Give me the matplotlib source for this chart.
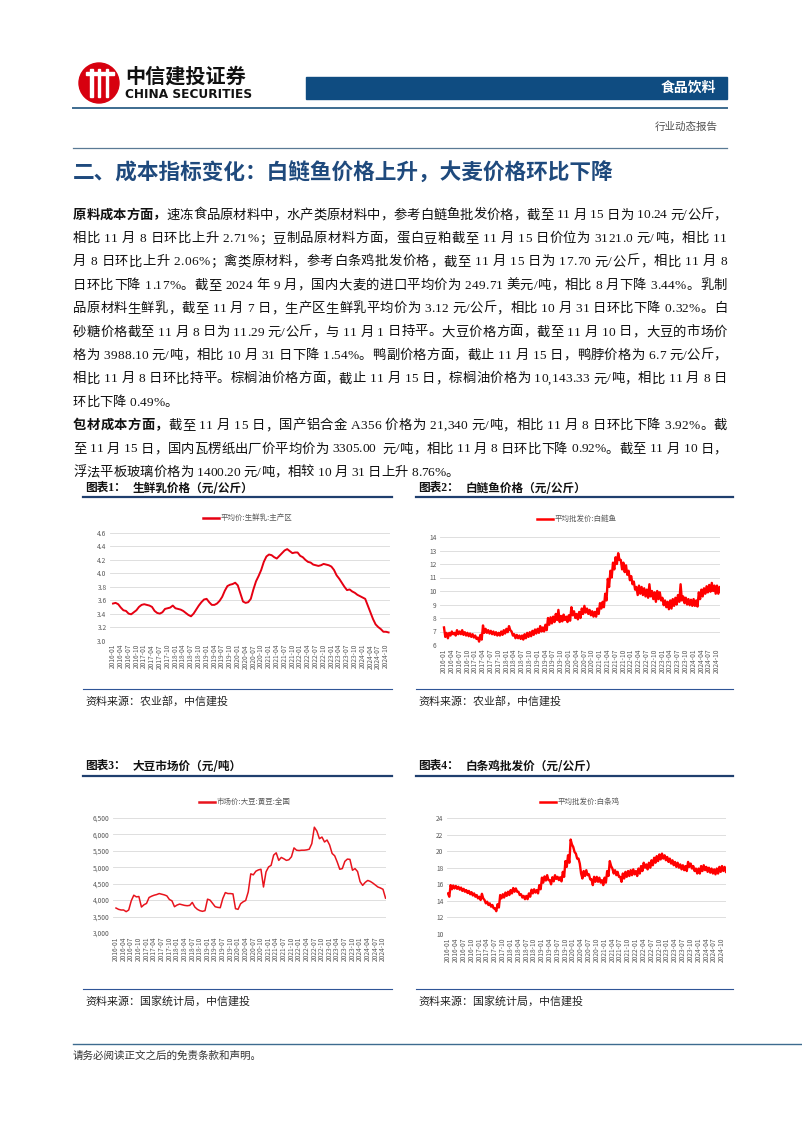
import numpy as np
import matplotlib.pyplot as plt
from matplotlib.patches import Rectangle, Ellipse
from matplotlib.lines import Line2D
from matplotlib.font_manager import FontProperties

W, H = 802, 1133
CJK = 'Noto Sans CJK SC'
SERIF = ['Liberation Serif', CJK, 'DejaVu Sans']
plt.rcParams['font.family'] = [CJK, 'DejaVu Sans']

# ---------------- data ----------------
months = [f'{y}-{m:02d}' for y in range(2016, 2025) for m in range(1, 13)][:107]
tick_labels = months[0:106:3]

# 生鲜乳 主产区平均价, 元/公斤, 月度 2016-01 .. 2024-11
milk = [3.55, 3.56, 3.54, 3.49, 3.45, 3.44, 3.40, 3.39, 3.42, 3.45, 3.50, 3.53,
        3.54, 3.53, 3.52, 3.50, 3.44, 3.41, 3.40, 3.42, 3.47, 3.48, 3.49, 3.52,
        3.48, 3.47, 3.46, 3.44, 3.41, 3.38, 3.36, 3.40, 3.46, 3.52, 3.57, 3.61,
        3.62, 3.57, 3.53, 3.53, 3.55, 3.59, 3.65, 3.74, 3.81, 3.83, 3.84, 3.86,
        3.82, 3.70, 3.58, 3.56, 3.57, 3.62, 3.76, 3.88, 3.96, 4.05, 4.17, 4.25,
        4.28, 4.27, 4.24, 4.22, 4.26, 4.30, 4.34, 4.36, 4.33, 4.30, 4.31, 4.31,
        4.26, 4.24, 4.20, 4.17, 4.16, 4.13, 4.12, 4.11, 4.12, 4.14, 4.13, 4.12,
        4.10, 4.05, 3.97, 3.92, 3.86, 3.80, 3.75, 3.76, 3.73, 3.71, 3.68, 3.66,
        3.64, 3.62, 3.52, 3.42, 3.32, 3.24, 3.20, 3.17, 3.13, 3.13, 3.12]

# 白鲢鱼 平均批发价, 元/公斤, 半月 2016-01 .. 2024-11
fish = [7.3, 6.6, 6.9, 6.5, 6.9, 6.7, 7.0, 6.8, 6.9, 6.7, 7.1, 6.8, 7.0, 6.8, 7.1, 6.75, 6.95, 6.7, 6.9, 6.65, 6.85, 6.6, 6.8, 6.55,
        6.7, 6.45, 6.55, 6.25, 6.75, 6.4, 7.45, 6.9, 7.2, 6.9, 7.1, 6.85, 7.05, 6.8, 7.0, 6.75, 6.95, 6.7, 6.9, 6.7, 7.0, 6.75, 7.1, 6.85,
        7.2, 6.95, 7.4, 7.1, 7.0, 6.7, 6.8, 6.5, 6.75, 6.5, 6.7, 6.45, 6.7, 6.4, 6.8, 6.5, 6.9, 6.6, 6.95, 6.65, 7.05, 6.75, 7.15, 6.85,
        7.2, 6.9, 7.4, 7.0, 7.3, 7.0, 7.5, 7.1, 8.0, 7.5, 8.05, 7.6, 8.1, 7.7, 8.3, 7.85, 8.6, 7.7, 8.15, 7.75, 8.25, 7.85, 8.1, 7.7,
        8.2, 7.8, 8.8, 8.2, 8.5, 8.0, 8.3, 7.9, 8.45, 8.0, 8.7, 8.3, 8.9, 8.4, 8.7, 8.3, 8.6, 8.2, 8.5, 8.1, 8.45, 8.1, 8.7, 8.3,
        9.1, 8.7, 9.2, 8.8, 9.8, 9.3, 10.9, 10.3, 11.5, 11.0, 12.1, 11.6, 12.5, 12.0, 12.8, 12.3, 12.3, 11.6, 12.1, 11.4, 11.9, 11.2, 11.5, 10.8,
        11.1, 10.5, 10.7, 10.1, 10.3, 9.7, 10.4, 9.8, 10.3, 9.7, 10.2, 9.6, 10.1, 9.5, 10.5, 9.6, 10.0, 9.4, 9.9, 9.2, 10.0, 9.4, 9.9, 9.3,
        9.5, 8.95, 9.3, 8.8, 9.2, 8.65, 9.3, 8.7, 9.4, 8.9, 9.5, 9.0, 9.7, 9.2, 10.5, 9.3, 9.6, 9.1, 9.5, 9.0, 9.4, 8.95, 9.35, 8.9,
        9.4, 8.9, 9.3, 8.85, 9.9, 9.4, 10.1, 9.6, 10.2, 9.8, 10.35, 9.9, 10.45, 9.95, 10.6, 10.0, 10.4, 9.8, 10.4, 9.8, 10.3, 9.9]

# 大豆 市场价 全国, 元/吨, 月度 2016-01 .. 2024-11
soy = [3760, 3720, 3700, 3700, 3650, 3700, 3980, 4150, 4100, 4110, 3790, 3860,
       3900, 4080, 4120, 4150, 4170, 4200, 4180, 4160, 4130, 4020, 3980, 3800,
       3850, 3880, 3860, 3840, 3830, 3840, 3930, 3790, 3720, 3680, 3660, 3680,
       4030, 4000, 3900, 3800, 3780, 3770, 4050, 4230, 4200, 4200, 4190, 3740,
       3720, 3890, 3950, 3990, 4250, 4800, 4770, 4880, 4920, 4940, 4400, 4860,
       5010, 5060, 5370, 5440, 5210, 5300, 5260, 5210, 5230, 5320, 5590, 5520,
       5510, 5520, 5520, 5530, 5550, 5720, 6220, 6100, 5870, 5920, 5770, 5830,
       5680, 5420, 5350, 5160, 4940, 4960, 5180, 5250, 5240, 4910, 4960, 4870,
       4560, 4450, 4540, 4600, 4570, 4520, 4460, 4400, 4370, 4330, 4060]

# 白条鸡 平均批发价, 元/公斤, 半月 2016-01 .. 2024-11
chicken = [14.9, 14.5, 15.9, 15.4, 15.85, 15.5, 15.8, 15.45, 15.7, 15.35, 15.6, 15.2, 15.45, 15.1, 15.3, 14.95, 15.2, 14.8, 15.05, 14.65, 14.9, 14.5, 14.7, 14.3,
           14.5, 14.1, 14.85, 14.3, 14.1, 13.7, 13.9, 13.5, 13.7, 13.3, 13.5, 13.1, 13.1, 12.75, 13.6, 13.2, 14.7, 14.3, 14.8, 14.4, 15.0, 14.6, 15.1, 14.7,
           15.3, 14.9, 15.55, 15.1, 15.5, 15.1, 15.1, 14.7, 14.8, 14.4, 14.6, 14.2, 14.6, 14.2, 14.9, 14.5, 15.35, 14.9, 15.4, 15.0, 15.3, 14.9, 15.9, 15.4,
           16.8, 16.2, 16.95, 16.45, 17.1, 16.5, 16.5, 16.0, 16.85, 16.35, 17.1, 16.65, 16.9, 16.5, 16.85, 16.35, 17.5, 16.9, 18.8, 18.1, 19.5, 18.6, 21.4, 20.8,
           20.5, 19.9, 19.7, 19.1, 19.1, 18.5, 17.3, 16.7, 17.6, 17.0, 17.7, 17.1, 17.2, 16.6, 16.6, 15.9, 16.9, 16.3, 16.9, 16.3, 16.8, 16.2, 16.5, 15.9,
           16.8, 16.2, 17.6, 17.0, 18.8, 18.2, 17.9, 17.3, 17.7, 17.1, 17.5, 16.9, 16.9, 16.3, 17.3, 16.7, 17.5, 16.9, 17.6, 17.0, 17.7, 17.1, 17.8, 17.2,
           17.6, 17.0, 17.9, 17.3, 18.2, 17.6, 18.6, 18.0, 18.4, 17.8, 18.6, 18.0, 18.9, 18.3, 19.2, 18.6, 19.4, 18.8, 19.6, 19.0, 19.7, 19.1, 19.5, 18.9,
           19.3, 18.7, 19.1, 18.5, 18.9, 18.3, 18.7, 18.1, 18.6, 18.0, 18.4, 17.8, 18.3, 17.7, 18.2, 17.6, 18.7, 18.1, 18.5, 17.9, 18.2, 17.6, 17.9, 17.3,
           17.9, 17.3, 18.2, 17.6, 18.3, 17.7, 18.1, 17.5, 18.0, 17.4, 17.9, 17.3, 17.8, 17.2, 17.9, 17.3, 18.1, 17.5, 18.2, 17.6, 18.1, 17.5]

body = [
    [('原料成本方面，', True), ('速冻食品原材料中，水产类原材料中，参考白鲢鱼批发价格，截至 11 月 15 日为 10.24 元/公斤，', False)],
    [('相比 11 月 8 日环比上升 2.71%；豆制品原材料方面，蛋白豆粕截至 11 月 15 日价位为 3121.0 元/吨，相比 11', False)],
    [('月 8 日环比上升 2.06%；禽类原材料，参考白条鸡批发价格，截至 11 月 15 日为 17.70 元/公斤，相比 11 月 8', False)],
    [('日环比下降 1.17%。截至 2024 年 9 月，国内大麦的进口平均价为 249.71 美元/吨，相比 8 月下降 3.44%。乳制', False)],
    [('品原材料生鲜乳，截至 11 月 7 日，生产区生鲜乳平均价为 3.12 元/公斤，相比 10 月 31 日环比下降 0.32%。白', False)],
    [('砂糖价格截至 11 月 8 日为 11.29 元/公斤，与 11 月 1 日持平。大豆价格方面，截至 11 月 10 日，大豆的市场价', False)],
    [('格为 3988.10 元/吨，相比 10 月 31 日下降 1.54%。鸭副价格方面，截止 11 月 15 日，鸭脖价格为 6.7 元/公斤，', False)],
    [('相比 11 月 8 日环比持平。棕榈油价格方面，截止 11 月 15 日，棕榈油价格为 10,143.33 元/吨，相比 11 月 8 日', False)],
    [('环比下降 0.49%。', False)],
    [('包材成本方面，', True), ('截至 11 月 15 日，国产铝合金 A356 价格为 21,340 元/吨，相比 11 月 8 日环比下降 3.92%。截', False)],
    [('至 11 月 15 日，国内瓦楞纸出厂价平均价为 3305.00  元/吨，相比 11 月 8 日环比下降 0.92%。截至 11 月 10 日，', False)],
    [('浮法平板玻璃价格为 1400.20 元/吨，相较 10 月 31 日上升 8.76%。', False)],
]
justified = [True, True, True, True, True, True, True, True, False, True, True, False]

fig = plt.figure(figsize=(W / 100, H / 100), dpi=100)
renderer = fig.canvas.get_renderer()


def fx(x):
    return x / W


def fy(y):
    return 1 - y / H


def hline(x0, x1, y, color, lw):
    fig.add_artist(Line2D([fx(x0), fx(x1)], [fy(y), fy(y)], color=color, lw=lw, transform=fig.transFigure))


# ---------------- header ----------------
fig.add_artist(Ellipse((fx(99), fy(83)), 40 / W, 40 / H, color='#d7000f', transform=fig.transFigure))
for bx in (89.5, 97.5, 105.5):
    fig.add_artist(Rectangle((fx(bx), fy(97)), 3 / W, 28 / H, color='white', transform=fig.transFigure))
fig.add_artist(Rectangle((fx(86), fy(75)), 28 / W, 2.5 / H, color='white', transform=fig.transFigure))
fig.text(fx(125), fy(76), '中信建投证券', fontsize=14.5, fontweight='bold', color='#111111', va='center')
fig.text(fx(125), fy(94.5), 'CHINA SECURITIES', fontsize=8.7, fontweight='bold', color='#111111', va='center',
         family=['Liberation Sans Narrow', 'DejaVu Sans'])
fig.add_artist(Rectangle((fx(306), fy(99)), 421 / W, 22 / H, color='#0f4c81', transform=fig.transFigure))
fig.text(fx(716), fy(88), '食品饮料', fontsize=10, fontweight='bold', color='white', ha='right', va='center')
hline(73, 727, 108, '#3d6b8f', 1.4)
fig.text(fx(718), fy(127), '行业动态报告', fontsize=7.6, color='#505050', ha='right', va='center', family=SERIF)
hline(73, 727, 148, '#5a7a95', 0.9)

fig.text(fx(73), fy(173), '二、成本指标变化：白鲢鱼价格上升，大麦价格环比下降', fontsize=15.6, fontweight='bold',
         color='#1f4a7d', va='center')


# ---------------- body text (justified) ----------------
def put_line(segs, y, justify, size=9.6, x0=73, x1=727):
    props = {b: FontProperties(family=SERIF, size=size, weight='bold' if b else 'normal') for b in (False, True)}
    chars = [(ch, b) for s, b in segs for ch in s]
    widths = [renderer.get_text_width_height_descent(ch, props[b], ismath=False)[0] for ch, b in chars]
    gap = (x1 - x0 - sum(widths)) / (len(chars) - 1) if justify else 0
    x = x0
    for (ch, b), w in zip(chars, widths):
        if ch != ' ':
            fig.text(fx(x), fy(y), ch, fontproperties=props[b], color='#111111', va='baseline', ha='left')
        x += w + gap


for i, (segs, j) in enumerate(zip(body, justified)):
    put_line(segs, 218.5 + i * 23.4, j)


# ---------------- charts ----------------
def chart(box, x0, x105, xs, ys, ylim, yticks, fmt, lw, color, legend, leg_x, leg_y):
    left, right, top, bottom = box
    ax = fig.add_axes([fx(left), fy(bottom), (right - left) / W, (bottom - top) / H])
    ppm = (x105 - x0) / 105
    ax.set_xlim((left - x0) / ppm, (right - x0) / ppm)
    ax.set_ylim(*ylim)
    ax.plot(xs, ys, color=color, lw=lw, solid_joinstyle='round')
    ax.set_yticks(yticks)
    ax.set_yticklabels([fmt(v) for v in yticks])
    ax.set_xticks(range(0, 106, 3))
    ax.set_xticklabels(tick_labels, rotation=90)
    ax.grid(axis='y', color='#d9d9d9', lw=0.6)
    ax.set_axisbelow(True)
    for s in ax.spines.values():
        s.set_visible(False)
    ax.tick_params(length=0, labelsize=4.8, labelcolor='#595959', pad=2.5)
    fig.add_artist(Line2D([fx(leg_x), fx(leg_x + 16)], [fy(leg_y), fy(leg_y)], color=color, lw=1.8,
                          transform=fig.transFigure))
    fig.text(fx(leg_x + 18), fy(leg_y), legend, fontsize=5.4, color='#595959', va='center')
    return ax


def block(x, x_end, y_title, num, title, y_src, src):
    fig.text(fx(x + 2), fy(y_title), f'图表{num}：', fontsize=8.4, fontweight='bold', family=SERIF,
             color='#111111', va='center')
    fig.text(fx(x + 50), fy(y_title), title, fontsize=8.4, fontweight='bold', color='#111111', va='center')
    hline(x, x_end, y_title + 9.5, '#1f3f6e', 1.6)
    hline(x, x_end, y_src - 12, '#2f5597', 0.8)
    fig.text(fx(x + 2), fy(y_src), src, fontsize=7.9, family=SERIF, color='#222222', va='center')


block(83, 392, 488, 1, '生鲜乳价格（元/公斤）', 701, '资料来源：农业部，中信建投')
block(416, 733, 488, 2, '白鲢鱼价格（元/公斤）', 701, '资料来源：农业部，中信建投')
block(83, 392, 766, 3, '大豆市场价（元/吨）', 1001, '资料来源：国家统计局，中信建投')
block(416, 733, 766, 4, '白条鸡批发价（元/公斤）', 1001, '资料来源：国家统计局，中信建投')

idx = np.arange(107)
half = np.arange(len(fish)) / 2
half_c = np.arange(len(chicken)) / 2

chart((110, 390, 533, 640.5), 113, 386, idx, milk, (3.0, 4.6), [3.0, 3.2, 3.4, 3.6, 3.8, 4.0, 4.2, 4.4, 4.6],
      lambda v: f'{v:.1f}', 1.4, '#e60012', '平均价:生鲜乳:主产区', 203, 518)
chart((440, 720, 537, 645), 444, 717, half, fish, (6, 14), list(range(6, 15)),
      lambda v: f'{v:d}', 1.7, '#ff0000', '平均批发价:白鲢鱼', 537, 519)
chart((113, 386, 818, 933), 116, 383, idx, soy, (3000, 6500), list(range(3000, 6501, 500)),
      lambda v: f'{v:,d}', 1.1, '#e8141d', '市场价:大豆:黄豆:全国', 199, 802)
chart((447, 726, 818, 934), 448, 722, half_c, chicken, (10, 24), list(range(10, 25, 2)),
      lambda v: f'{v:d}', 1.7, '#ff0000', '平均批发价:白条鸡', 540, 802)

# ---------------- footer ----------------
hline(73, 802, 1044, '#3d6b8f', 1.0)
fig.text(fx(73), fy(1056), '请务必阅读正文之后的免责条款和声明。', fontsize=7.6, family=SERIF, color='#333333', va='center')

fig.savefig('out.png', dpi=100)
